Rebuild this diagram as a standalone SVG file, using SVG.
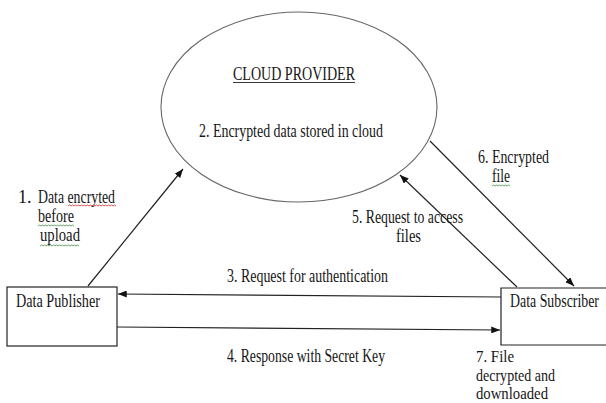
<svg xmlns="http://www.w3.org/2000/svg" width="606" height="403" viewBox="0 0 606 403">
  <style>
    text { font-family: "Liberation Serif", "Times New Roman", "DejaVu Serif", serif; font-size: 18px; fill: #161616; }
    text.small { font-size: 16.5px; }
    .node { fill: #fff; stroke: #222; stroke-width: 1.2; }
    .cloud { fill: #fff; stroke: #666; stroke-width: 1.1; }
    .edge { fill: none; stroke: #222; stroke-width: 1.2; marker-end: url(#arrow); }
    .squig-red { fill: none; stroke: #d04040; stroke-width: 0.9; }
    .squig-green { fill: none; stroke: #5a9a5a; stroke-width: 0.9; }
  </style>
  <defs>
    <marker id="arrow" viewBox="0 0 10 8" refX="10" refY="4" markerWidth="9" markerHeight="7" markerUnits="userSpaceOnUse" orient="auto">
      <path d="M0,0 L10,4 L0,8 Z" fill="#111"/>
    </marker>
  </defs>

  <rect width="606" height="403" fill="#fff"/>

  <!-- cloud node -->
  <g id="cloud-provider">
    <ellipse class="cloud" cx="299" cy="107" rx="138" ry="95"/>
    <text x="233" y="80" textLength="122" lengthAdjust="spacingAndGlyphs">CLOUD PROVIDER</text>
    <line x1="233" y1="82.5" x2="355" y2="82.5" stroke="#222" stroke-width="0.9"/>
    <text x="199" y="137" textLength="184" lengthAdjust="spacingAndGlyphs">2. Encrypted data stored in cloud</text>
  </g>

  <!-- publisher node -->
  <g id="data-publisher">
    <rect class="node" x="7" y="287" width="110" height="59"/>
    <text x="16" y="307" textLength="84" lengthAdjust="spacingAndGlyphs">Data Publisher</text>
  </g>

  <!-- subscriber node: open on the right, where it meets the edge -->
  <g id="data-subscriber">
    <path class="node" d="M606,288 H501 V345 H606"/>
    <text x="510" y="307" textLength="89" lengthAdjust="spacingAndGlyphs">Data Subscriber</text>
    <text class="small" x="476" y="362" textLength="38" lengthAdjust="spacingAndGlyphs">7. File</text>
    <text class="small" x="476" y="381" textLength="79" lengthAdjust="spacingAndGlyphs">decrypted and</text>
    <text class="small" x="476" y="399" textLength="72" lengthAdjust="spacingAndGlyphs">downloaded</text>
  </g>

  <!-- connectors and their labels -->
  <g id="connectors">
    <line class="edge" x1="88" y1="286" x2="183" y2="169"/>
    <line class="edge" x1="501" y1="297" x2="118" y2="294"/>
    <line class="edge" x1="117" y1="327" x2="500" y2="330"/>
    <line class="edge" x1="517" y1="287" x2="400" y2="175"/>
    <line class="edge" x1="430" y1="141" x2="574" y2="286"/>

    <text x="18" y="203">1.</text>
    <text x="38" y="203" textLength="77" lengthAdjust="spacingAndGlyphs">Data encryted</text>
    <text x="38" y="222" textLength="36" lengthAdjust="spacingAndGlyphs">before</text>
    <text x="40" y="241" textLength="40" lengthAdjust="spacingAndGlyphs">upload</text>
    <path class="squig-red" d="M68,206 l1.5,-1 l1.5,1 l1.5,-1 l1.5,1 l1.5,-1 l1.5,1 l1.5,-1 l1.5,1 l1.5,-1 l1.5,1 l1.5,-1 l1.5,1 l1.5,-1 l1.5,1 l1.5,-1 l1.5,1 l1.5,-1 l1.5,1 l1.5,-1 l1.5,1 l1.5,-1 l1.5,1 l1.5,-1 l1.5,1 l1.5,-1 l1.5,1 l1.5,-1 l1.5,1 l1.5,-1 l1.5,1 l1.5,-1 l1.5,1"/>
    <path class="squig-green" d="M38,226 l1.5,-1 l1.5,1 l1.5,-1 l1.5,1 l1.5,-1 l1.5,1 l1.5,-1 l1.5,1 l1.5,-1 l1.5,1 l1.5,-1 l1.5,1 l1.5,-1 l1.5,1 l1.5,-1 l1.5,1 l1.5,-1 l1.5,1 l1.5,-1 l1.5,1 l1.5,-1 l1.5,1 l1.5,-1 l1.5,1"/>
    <path class="squig-green" d="M40,246 l1.5,-1 l1.5,1 l1.5,-1 l1.5,1 l1.5,-1 l1.5,1 l1.5,-1 l1.5,1 l1.5,-1 l1.5,1 l1.5,-1 l1.5,1 l1.5,-1 l1.5,1 l1.5,-1 l1.5,1 l1.5,-1 l1.5,1 l1.5,-1 l1.5,1 l1.5,-1 l1.5,1 l1.5,-1 l1.5,1 l1.5,-1 l1.5,1"/>

    <text x="478" y="163" textLength="71" lengthAdjust="spacingAndGlyphs">6. Encrypted</text>
    <text x="492" y="182" textLength="18" lengthAdjust="spacingAndGlyphs">file</text>
    <path class="squig-green" d="M492,186 l1.5,-1 l1.5,1 l1.5,-1 l1.5,1 l1.5,-1 l1.5,1 l1.5,-1 l1.5,1 l1.5,-1 l1.5,1 l1.5,-1 l1.5,1"/>

    <text x="352" y="223" textLength="111" lengthAdjust="spacingAndGlyphs">5. Request to access</text>
    <text x="396" y="242" textLength="25" lengthAdjust="spacingAndGlyphs">files</text>

    <text x="227" y="282" textLength="161" lengthAdjust="spacingAndGlyphs">3. Request for authentication</text>
    <text x="227" y="362" textLength="158" lengthAdjust="spacingAndGlyphs">4. Response with Secret Key</text>
  </g>
</svg>
